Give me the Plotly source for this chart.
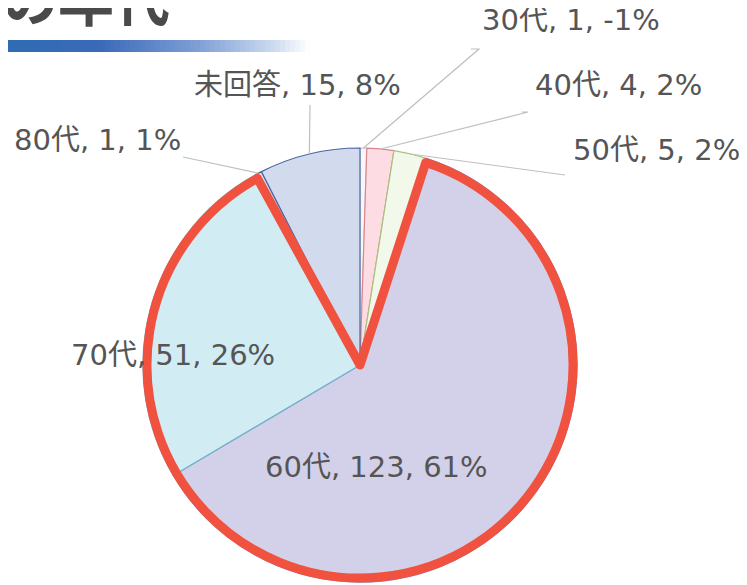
import math
import plotly.graph_objects as go

# ---------------- data ----------------
labels = ["30代", "40代", "50代", "60代", "70代", "80代", "未回答"]
values = [1, 4, 5, 123, 51, 1, 15]
pct_labels = ["-1%", "2%", "2%", "61%", "26%", "1%", "8%"]
highlight = ["60代", "70代"]

fill_colors = ["#f7f7fa", "#fddde3", "#f3f9ea", "#d3d1ea", "#d2ecf4", "#d6dcec", "#d2dbee"]
line_colors = ["#c8ccd8", "#d9868c", "#a8c47c", "#8a84c4", "#6fb4cc", "#4a5f96", "#4a66a0"]

W, H = 747, 585
OX, OY = 8, 8          # page body margin offset
CX, CY, R = 360, 365, 217

def px(x):
    return (x - OX) / W

def py(y):
    return 1 - (y - OY) / H

fig = go.Figure()

fig.add_trace(go.Pie(
    labels=labels, values=values, sort=False, direction="clockwise", rotation=0,
    marker=dict(colors=fill_colors, line=dict(color=line_colors, width=1.2)),
    textinfo="none", hoverinfo="label+value", showlegend=False,
    domain=dict(x=[px(CX - R), px(CX + R)], y=[py(CY + R), py(CY - R)]),
))

# highlight outline around the grouped slices
total = sum(values)
before = 0
i = 0
while labels[i] not in highlight:
    before += values[i]
    i += 1
hl = sum(v for l, v in zip(labels, values) if l in highlight)
after = total - before - hl
R2 = R - 4
fig.add_trace(go.Pie(
    values=[before, hl, after], sort=False, direction="clockwise", rotation=0,
    marker=dict(colors=["rgba(0,0,0,0)"] * 3,
                line=dict(color="#f0523f", width=[0, 9, 0])),
    textinfo="none", hoverinfo="skip", showlegend=False,
    domain=dict(x=[px(CX - R2), px(CX + R2)], y=[py(CY + R2), py(CY - R2)]),
))

# ---------------- labels ----------------
def slice_point(idx, rad):
    cum = sum(values[:idx]) + values[idx] / 2
    th = 2 * math.pi * cum / total
    return CX + rad * math.sin(th), CY - rad * math.cos(th)

# label placement (center x, center y, elbow points of leader)
label_pos = {
    "30代": (571, 20, [(471, 49), (479, 49)]),
    "40代": (618, 85, [(522, 112), (528, 112)]),
    "50代": (656, 150, [(565, 175)]),
    "60代": (376, 467, None),
    "70代": (173, 355, None),
    "80代": (97, 140, [(183, 157)]),
    "未回答": (297, 85, [(310, 105)]),
}

font = dict(family="DejaVu Sans, Noto Sans CJK JP, sans-serif", size=29, color="#555555")
shapes = []
annotations = []
for idx, lab in enumerate(labels):
    x, y, elbows = label_pos[lab]
    annotations.append(dict(
        x=px(x), y=py(y), xref="paper", yref="paper", showarrow=False,
        text=f"{lab}, {values[idx]}, {pct_labels[idx]}", font=font,
        xanchor="center", yanchor="middle",
    ))
    if elbows:
        sx, sy = slice_point(idx, R)
        pts = [(sx, sy)] + list(reversed(elbows))
        path = "M " + " L ".join(f"{px(a)},{py(b)}" for a, b in pts)
        shapes.append(dict(type="path", xref="paper", yref="paper", path=path,
                           line=dict(color="#bfbfbf", width=1.2)))

# title fragment and gradient bar
annotations.append(dict(
    x=px(0), y=py(-4), xref="paper", yref="paper", showarrow=False,
    text="<b>の年代</b>", xanchor="left", yanchor="middle",
    font=dict(family="Noto Sans CJK JP, sans-serif", size=56, color="#4a4a4a"),
))

def lerp(c1, c2, t):
    return tuple(round(a + (b - a) * t) for a, b in zip(c1, c2))

stops = [(0, (46, 108, 178)), (100, (58, 106, 184)), (200, (128, 160, 214)),
         (270, (200, 216, 238)), (310, (255, 255, 255))]
n = 62
for k in range(n):
    x0 = 310 * k / n
    x1 = 310 * (k + 1) / n
    xm = (x0 + x1) / 2
    for j in range(len(stops) - 1):
        if stops[j][0] <= xm <= stops[j + 1][0]:
            t = (xm - stops[j][0]) / (stops[j + 1][0] - stops[j][0])
            c = lerp(stops[j][1], stops[j + 1][1], t)
            break
    shapes.append(dict(type="rect", xref="paper", yref="paper",
                       x0=px(max(x0, OX)), x1=px(x1) + 0.001, y0=py(52), y1=py(40),
                       line=dict(width=0), fillcolor=f"rgb{c}", layer="below"))

fig.update_layout(
    width=W, height=H, margin=dict(l=0, r=0, t=0, b=0),
    paper_bgcolor="white", plot_bgcolor="white",
    shapes=shapes, annotations=annotations, showlegend=False,
)

fig.write_html("out.html")
